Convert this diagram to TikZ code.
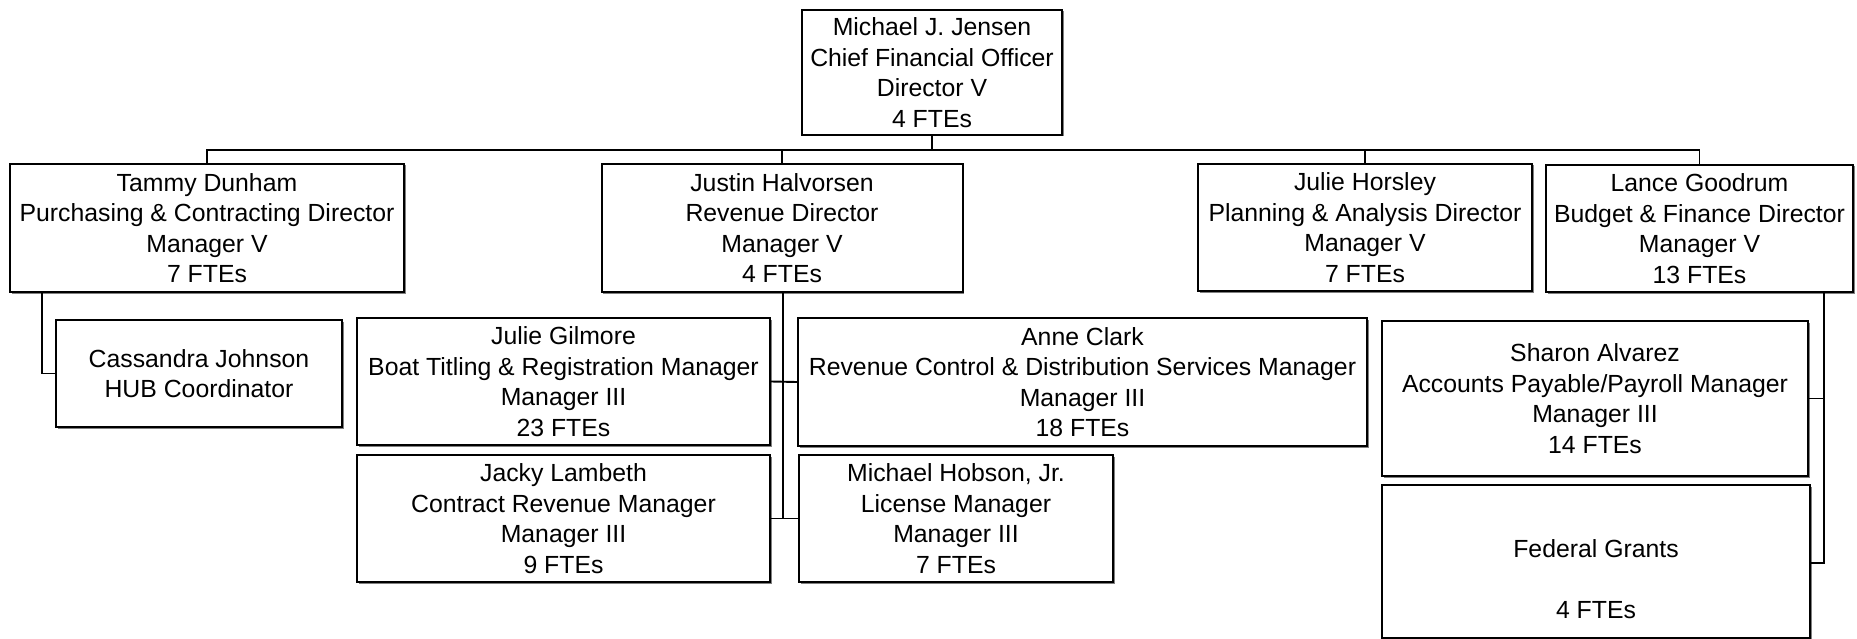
\documentclass[tikz,border=0pt]{standalone}
\usepackage{fontspec}
\newfontfamily\orgfont{Liberation Sans}
\usetikzlibrary{shadows}
\begin{document}
\begin{tikzpicture}[x=1pt, y=-1pt,
  box/.style={draw=black, line width=2pt, fill=white, inner sep=0pt,
    align=center, font={\orgfont\fontsize{24.8pt}{30.5pt}\selectfont},
    drop shadow={shadow xshift=1.5pt, shadow yshift=-1.5pt, fill=black!50, opacity=1}},
  label/.style={inner sep=0pt, align=center, font={\orgfont\fontsize{24.8pt}{30.5pt}\selectfont}},
  link/.style={draw=black, line width=1.9pt}]
  \fill[white] (0,0) rectangle (1857,639);
  \useasboundingbox (0,0) rectangle (1857,639);

  % top
  \node[box, minimum width=260pt, minimum height=125pt] (cfo) at (932,72.5)
    {Michael J. Jensen\\Chief Financial Officer\\Director V\\4 FTEs};

  % directors
  \node[box, minimum width=394pt, minimum height=128pt] (tammy) at (207,228)
    {Tammy Dunham\\Purchasing \& Contracting Director\\Manager V\\7 FTEs};
  \node[box, minimum width=361pt, minimum height=128pt] (justin) at (782,228)
    {Justin Halvorsen\\Revenue Director\\Manager V\\4 FTEs};
  \node[box, minimum width=334pt, minimum height=127pt] (horsley) at (1365,227.5)
    {Julie Horsley\\Planning \& Analysis Director\\Manager V\\7 FTEs};
  \node[box, minimum width=307pt, minimum height=127pt] (lance) at (1699.5,228.5)
    {Lance Goodrum\\Budget \& Finance Director\\Manager V\\13 FTEs};

  % staff under purchasing
  \node[box, minimum width=286pt, minimum height=107pt] (cass) at (199,373.5)
    {Cassandra Johnson\\HUB Coordinator};

  % managers under revenue
  \node[box, minimum width=413pt, minimum height=127pt] (gilmore) at (563.5,381.5)
    {Julie Gilmore\\Boat Titling \& Registration Manager\\Manager III\\23 FTEs};
  \node[box, minimum width=569pt, minimum height=128pt] (anne) at (1082.5,382)
    {Anne Clark\\Revenue Control \& Distribution Services Manager\\Manager III\\18 FTEs};
  \node[box, minimum width=413pt, minimum height=127pt] (jacky) at (563.5,518.5)
    {Jacky Lambeth\\Contract Revenue Manager\\Manager III\\9 FTEs};
  \node[box, minimum width=314pt, minimum height=127pt] (hobson) at (956,518.5)
    {Michael Hobson, Jr.\\License Manager\\Manager III\\7 FTEs};

  % units under budget & finance
  \node[box, minimum width=426pt, minimum height=155pt] (sharon) at (1595,398.5)
    {Sharon Alvarez\\Accounts Payable/Payroll Manager\\Manager III\\14 FTEs};
  \node[box, minimum width=428pt, minimum height=153pt] (fed) at (1596,561.5) {};
  \node[label] (fedtext) at (1596,579) {Federal Grants\\[31pt]4 FTEs};

  % connectors
  \coordinate (bus) at (932,150);
  \draw[link] (cfo.south) -- (bus);
  \draw[link] (tammy.north) |- (bus) -| (lance.north);
  \draw[link] (justin.north) -- (justin.north |- bus);
  \draw[link] (horsley.north) -- (horsley.north |- bus);

  \coordinate (tbus) at ([xshift=33pt]tammy.south west);
  \draw[link] (tbus) |- (cass.west);

  \coordinate (jbus) at ([xshift=1pt]justin.south);
  \draw[link] (jbus) -- (jbus |- jacky.east);
  \draw[link] (gilmore.east) -- (anne.west);
  \draw[link] (jacky.east) -- (hobson.west);

  \coordinate (lbus) at ([xshift=-30pt]lance.south east);
  \draw[link] (lbus) |- ([yshift=-1.5pt]fed.east);
  \draw[link] (sharon.east) -- (sharon.east -| lbus);
\end{tikzpicture}
\end{document}
